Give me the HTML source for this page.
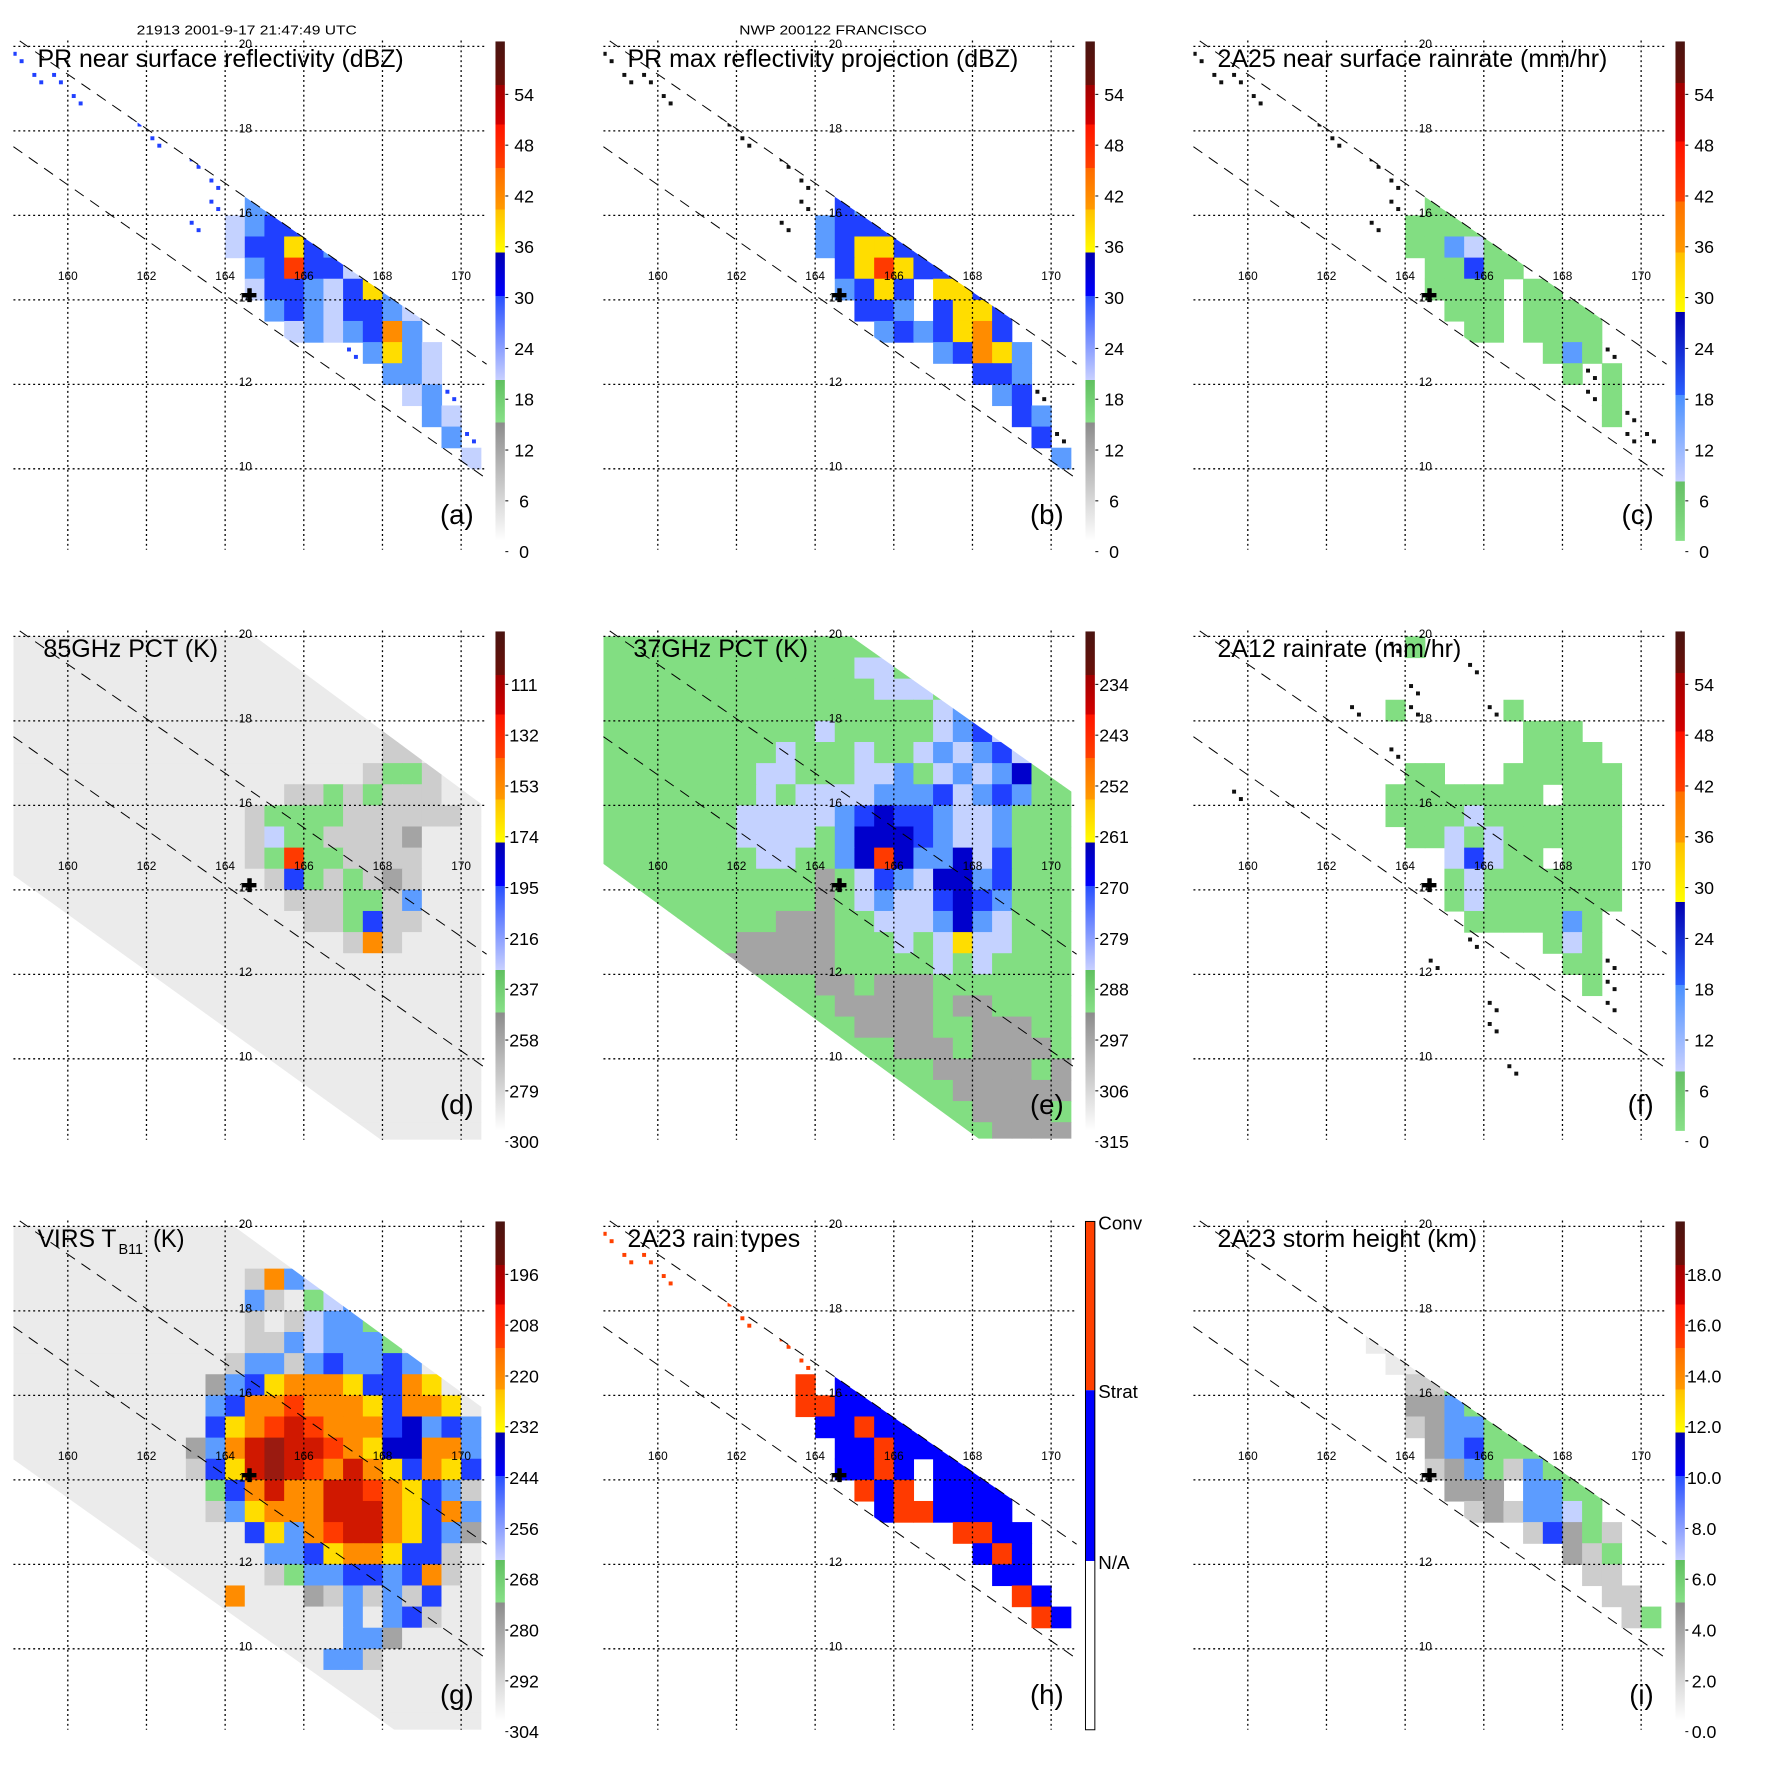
<!DOCTYPE html>
<html><head><meta charset="utf-8">
<style>
html,body{margin:0;padding:0;background:#fff}
svg{display:block}
text{font-family:"Liberation Sans",Arial,sans-serif;fill:#000}
</style></head>
<body>
<svg id="fig" width="1771" height="1771" viewBox="0 0 1771 1771" xmlns="http://www.w3.org/2000/svg">
<rect width="1771" height="1771" fill="#fff"/>
<defs id="defs">
<linearGradient id="gradA" x1="0" y1="0" x2="0" y2="1">
<stop offset="0" stop-color="#4a1410"/><stop offset="0.087" stop-color="#6a100a"/>
<stop offset="0.087" stop-color="#a00000"/><stop offset="0.166" stop-color="#d40000"/>
<stop offset="0.166" stop-color="#ff1400"/><stop offset="0.253" stop-color="#ff4000"/>
<stop offset="0.253" stop-color="#ff6a00"/><stop offset="0.336" stop-color="#ff9a00"/>
<stop offset="0.336" stop-color="#ffc000"/><stop offset="0.423" stop-color="#ffff00"/>
<stop offset="0.423" stop-color="#0000b0"/><stop offset="0.51" stop-color="#0000ff"/>
<stop offset="0.51" stop-color="#2850ff"/><stop offset="0.678" stop-color="#c8d0ff"/>
<stop offset="0.678" stop-color="#60c060"/><stop offset="0.763" stop-color="#88e088"/>
<stop offset="0.763" stop-color="#8c8c8c"/><stop offset="1" stop-color="#ffffff"/>
</linearGradient>
<linearGradient id="gradC" x1="0" y1="0" x2="0" y2="1">
<stop offset="0" stop-color="#4a1410"/><stop offset="0.083" stop-color="#6a100a"/>
<stop offset="0.083" stop-color="#a00000"/><stop offset="0.2" stop-color="#d40000"/>
<stop offset="0.2" stop-color="#ff1000"/><stop offset="0.32" stop-color="#ff4000"/>
<stop offset="0.32" stop-color="#ff7000"/><stop offset="0.423" stop-color="#ff9a00"/>
<stop offset="0.423" stop-color="#ffc000"/><stop offset="0.542" stop-color="#ffff00"/>
<stop offset="0.542" stop-color="#0000b0"/><stop offset="0.708" stop-color="#2a60ff"/>
<stop offset="0.708" stop-color="#4a90ff"/><stop offset="0.881" stop-color="#c8d0ff"/>
<stop offset="0.881" stop-color="#66c066"/><stop offset="1" stop-color="#88e088"/>
</linearGradient>
</defs>
<g transform="scale(0.987)">
<text x="250" y="35" font-size="13" text-anchor="middle" textLength="223" lengthAdjust="spacingAndGlyphs">21913 2001-9-17 21:47:49 UTC</text>
<text x="844" y="35" font-size="13" text-anchor="middle" textLength="190" lengthAdjust="spacingAndGlyphs">NWP 200122 FRANCISCO</text>
</g>
<g id="panels"></g>
</svg>
<script>
const NS='http://www.w3.org/2000/svg';
const lonTicks=[160,162,164,166,168,170];
const latTicks=[20,18,16,14,12,10];
const stormCenter=[164.62,14.11];

const gridA=[
"*.......................",".**.....................","...*..*.................","......**................",
".......*.*..............",".........**.............","..........*.l...........","..........*.bb..........",
".........*.lbBB.........","...........lBByBb.......","............bBrBBl......","............lBBblByb....",
".............bBblBBbl...","..............lblbBob...",".................*bybl..","...................bbl..",
"....................lb*.",".....................bl.","......................b*",".......................l",
"........................","........................","........................","........................"];
const gridB=[
"#.......................",".##.....................","...#..#.................","......##................",
".......#.#..............",".........##.............","..........#.#...........","..........#.Bb..........",
".........#.bBBB.........","...........bByyBB.......","............ByryBB......","............bByB.yyB....",
".............BBb.ByyB...","..............bBbByoB...",".................bBoyb..","...................BBb..",
"....................bB#.",".....................Bb.","......................B#",".......................b",
"........................","........................","........................","........................"];
const gridC=[
"#.......................",".##.....................","...#..#.................","......##................",
".......#.#..............",".........##.............","..........#.#...........","..........#.nn..........",
".........#.nnnn.........","...........nnblnn.......","............nnBnn.......","............nnnn.nn.....",
".............nnn.nnnn...","..............nn.nnnn...","..................nbn#..","...................n#n..",
"....................#n..",".....................n#.","......................##","........................",
"........................","........................","........................","........................"];
const gridD=[
"wwwwwwwwwwwwwwwwwwwwwwww","wwwwwwwwwwwwwwwwwwwwwwww","wwwwwwwwwwwwwwwwwwwwwwww","wwwwwwwwwwwwwwwwwwwggwww",
"wwwwwwwwwwwwwwwwwwwggwww","wwwwwwwwwwwwwwwwwwwggwww","wwwwwwwwwwwwwwwwwwgnngww","wwwwwwwwwwwwwwggngngggww",
"wwwwwwwwwwwwgnnnnggggggw","wwwwwwwwwwwwglnnggggGwww","wwwwwwwwwwwwgnrnnggggwww","wwwwwwwwwwwwwgBngngGgwww",
"wwwwwwwwwwwwwwgggnngbwww","wwwwwwwwwwwwwwwggnBggwww","wwwwwwwwwwwwwwwwwgogwwww","wwwwwwwwwwwwwwwwwwwwwwww",
"wwwwwwwwwwwwwwwwwwwwwwww","wwwwwwwwwwwwwwwwwwwwwwww","wwwwwwwwwwwwwwwwwwwwwwww","wwwwwwwwwwwwwwwwwwwwwwww",
"wwwwwwwwwwwwwwwwwwwwwwww","wwwwwwwwwwwwwwwwwwwwwwww","wwwwwwwwwwwwwwwwwwwwwwww","wwwwwwwwwwwwwwwwwwwwwwww"];
const gridE=[
"nnnnnnnnnnnnnnnnnnnnnnnn","nnnnnnnnnnnnnllnnnnnnnnn","nnnnnnnnnnnnnnlllnnnnnnn","nnnnnnnnnnnnnnnnnlbbnnnn",
"nnnnnnnnnnnlnnnnnlbBlnnn","nnnnnnnnnlnnnlnnlblbBlnn","nnnnnnnnllnnnllbnlblbDnn","nnnnnnnnlnllllbbbBlbBbnn",
"nnnnnnnlllllbBDBBbllbnnn","nnnnnnnllllnbDDDBbllbnnn","nnnnnnnnllnnbDrDbbDlBnnn","nnnnnnnnnnnGnlBblDDbBnnn",
"nnnnnnnnnnnGnlbllBDBbnnn","nnnnnnnnnGGGnnlllbDblnnn","nnnnnnnGGGGGnnnlnlyllnnn","nnnnnnGGGGGGnnnnnlnlnnnn",
"nnnnnnnnnnnGGnGGGnnnnnnn","nnnnnnnnnnnnGGGGGnGGnnnn","nnnnnnnnnnnnnGGGGnnGGGnn","nnnnnnnnnnnnnnnGGGnGGGGn",
"nnnnnnnnnnnnnnnnnGGGGGnG","nnnnnnnnnnnnnnnnnnGGGGGG","nnnnnnnnnnnnnnnnnnnGGGGn","nnnnnnnnnnnnnnnnnnnnGGGG"];
const gridF=[
"..........#n............","..............#.........","...........#............","........#.n#...#n.......",
".................nnn....","..........#......nnnn...","...........nn...nnnnnn..","..#.......nnnnnnnn.nnn..",
"..........nnnnlnnnnnnn..","...........nnlnlnnnnnn..",".............lBlnn.nnn..",".............nlnnnnnnn..",
".............nlnnnnnnn..","..............nnnnnbn...","..............#...nln...","............#......nn#..",
"....................n#..","...............#.....#..","...............#........","........................",
"................#.......","........................","........................","........................"];
const gridG=[
"wwwwwwwwwwwwwwwwwwwwwwww","wwwwwwwwwwwwwwwwwwwwwwww","wwwwwwwwwwwwgoblwwwwwwww","wwwwwwwwwwwwbgwnlbwwwwww",
"wwwwwwwwwwwwgwglbbnwwwww","wwwwwwwwwwwwggblbbbnwwww","wwwwwwwwwwwgbbgbBbbBbwww","wwwwwwwwwwGbByoooyBBoyww",
"wwwwwwwwwwbBooroooyBooyw","wwwwwwwwwwByorRroooBDbBb","wwwwwwwwwGboRkRRroyDDoob","wwwwwwwwwgByRkRroRoyBoyB",
"wwwwwwwwwwnBoRooRRroyBbg","wwwwwwwwwwgbyoooRRRoyBob","wwwwwwwwwwwwByborRRoyBbG","wwwwwwwwwwwwwbbByooyBBgw",
"wwwwwwwwwwwwwgnbbBBbBogw","wwwwwwwwwwwowwwGgbgbgBww","wwwwwwwwwwwwwwwwwbwbBgww","wwwwwwwwwwwwwwwwwbbGwwww",
"wwwwwwwwwwwwwwwwbbgwwwww","wwwwwwwwwwwwwwwwwwwwwwww","wwwwwwwwwwwwwwwwwwwwwwww","wwwwwwwwwwwwwwwwwwwwwwww"];
const gridH=[
"%.......................",".%%.....................","...%..%.................","......%%................",
".......%.%..............",".........%%.............","..........%.%...........","..........r.UU..........",
"..........rrUUU.........","...........UUrUUU.......","............UUrUUU......","............UUrU.UUU....",
".............rUr.UUUU...","..............UrrUUUU...","..................rrUU..","...................UrU..",
"....................UU..",".....................rU.","......................rU","........................",
"........................","........................","........................","........................"];
const gridI=[
"........................","........................","........................","........................",
"........................",".........w..............","..........ww............","...........ggn..........",
"...........GGbn.........","...........gGbbnn.......","............GbBnnn......","............gGbngbnn....",
".............GGG.bbnn...","..............gGgbbln...",".................gBGng..","...................Ggn..",
"....................gg..",".....................gg.","......................gn","........................",
"........................","........................","........................","........................"];

const ticksDBZ=['54','48','42','36','30','24','18','12','6','0'];
const ticksPCT85=['111','132','153','174','195','216','237','258','279','300'];
const ticksPCT37=['234','243','252','261','270','279','288','297','306','315'];
const ticksVIRS=['196','208','220','232','244','256','268','280','292','304'];
const ticksHeight=['18.0','16.0','14.0','12.0','10.0','8.0','6.0','4.0','2.0','0.0'];
const rainTypes=['Conv','Strat','N/A'];

const palette={w:'#ebebeb',g:'#cdcdcd',G:'#a4a4a4',n:'#82de82',l:'#c4d2ff',b:'#5c9cff',B:'#2040ff',D:'#0000cc',U:'#0000ff',y:'#ffdd00',o:'#ff8c00',r:'#ff3a00',R:'#d01800',k:'#9a1a10'};
const dotColors={'*':'#2040ff','#':'#111111','%':'#ff4000'};

function xOf(lon){return 68.7+(lon-160)*39.85;}
function yOf(lat){return 47+(20-lat)*42.8;}
function mk(tag,attrs,parent){const e=document.createElementNS(NS,tag);for(const k in attrs)e.setAttribute(k,attrs[k]);if(parent)parent.appendChild(e);return e;}

const clipShapes={
 pr:'0,27.7 493,368.8 493,486 0,139',
 d:'13.6,41 250,41 492,220 492,557 386,557 13.6,289',
 e:'13.6,41 256,41 493,208 493,556 394,556 13.6,277.5',
 g:'13.6,41 229,41 492,233 492,557 399.5,557 13.6,283'
};
const panels=[
 {id:'a',col:0,row:0,grid:gridA,clip:'pr',title:'PR near surface reflectivity (dBZ)',tw:371,tx:38,cb:'A',ticks:ticksDBZ},
 {id:'b',col:1,row:0,grid:gridB,clip:'pr',title:'PR max reflectivity projection (dBZ)',tw:396,tx:38,cb:'A',ticks:ticksDBZ},
 {id:'c',col:2,row:0,grid:gridC,clip:'pr',title:'2A25 near surface rainrate (mm/hr)',tw:395,tx:38,cb:'C',ticks:ticksDBZ},
 {id:'d',col:0,row:1,grid:gridD,clip:'d',title:'85GHz PCT (K)',tw:177,tx:44,cb:'A',ticks:ticksPCT85},
 {id:'e',col:1,row:1,grid:gridE,clip:'e',title:'37GHz PCT (K)',tw:177,tx:44,cb:'A',ticks:ticksPCT37},
 {id:'f',col:2,row:1,grid:gridF,clip:null,title:'2A12 rainrate (mm/hr)',tw:247,tx:38,cb:'C',ticks:ticksDBZ},
 {id:'g',col:0,row:2,grid:gridG,clip:'g',title:null,cb:'A',ticks:ticksVIRS},
 {id:'h',col:1,row:2,grid:gridH,clip:'pr',title:'2A23 rain types',tw:175,tx:38,cb:'H',ticks:rainTypes},
 {id:'i',col:2,row:2,grid:gridI,clip:'pr',title:'2A23 storm height (km)',tw:263,tx:38,cb:'A',ticks:ticksHeight}
];

const root=document.getElementById('panels');
const defs=document.getElementById('defs');
panels.forEach(p=>{
 const g=mk('g',{transform:`translate(${p.col*590},${p.row*590}) scale(0.987)`},root);
 
 
 const cpBox=mk('clipPath',{id:'box'+p.id},defs);
 mk('rect',{x:13.6,y:41,width:479.4,height:516},cpBox);
 const field=mk('g',{'clip-path':`url(#box${p.id})`},g);
 
 
 let inner=field;
 if(p.clip){
  const cp=mk('clipPath',{id:'sw'+p.id},defs);
  mk('polygon',{points:clipShapes[p.clip]},cp);
  inner=mk('g',{'clip-path':`url(#sw${p.id})`},field);
 }
 const cw=xOf(0.5+160)-xOf(160), ch=yOf(19.5)-yOf(20);
 p.grid.forEach((rowStr,i)=>{
  for(let j=0;j<rowStr.length;j++){
   const c=rowStr[j]; if(c==='.') continue;
   const lon0=158.5+0.5*j, lat0=20-0.5*i;
   const x=xOf(lon0), y=yOf(lat0);
   if(palette[c]){
    const r=mk('rect',{x:x.toFixed(1),y:y.toFixed(1),width:(cw+0.6).toFixed(1),height:(ch+0.6).toFixed(1),fill:palette[c]},inner);
    
    
   } else if(dotColors[c]){
    [[0.3,0.35],[0.65,0.7]].forEach(([fx,fy])=>{
     const r=mk('rect',{x:(x+cw*fx-2).toFixed(1),y:(y+ch*fy-2).toFixed(1),width:4,height:4,fill:dotColors[c]},inner);
     
     
    });
   }
  }
 });
 latTicks.forEach(lat=>{
  const l=mk('line',{x1:13.6,x2:493,y1:yOf(lat),y2:yOf(lat),stroke:'#000','stroke-width':1.3,'stroke-dasharray':'2 3'},g);
  
  
  const t=mk('text',{x:248.6,y:yOf(lat)+1.5,'font-size':12,'text-anchor':'middle'},g);
  t.textContent=String(lat);
  
  
 });
 lonTicks.forEach(lon=>{
  const l=mk('line',{x1:xOf(lon),x2:xOf(lon),y1:41,y2:557,stroke:'#000','stroke-width':1.3,'stroke-dasharray':'2 3'},g);
  
  
  const t=mk('text',{x:xOf(lon),y:283.5,'font-size':12,'text-anchor':'middle'},g);
  t.textContent=String(lon);
  
  
 });
 [[20,41.5,493,369],[13.6,148.6,493,485]].forEach(s=>{
  const l=mk('line',{x1:s[0],y1:s[1],x2:s[2],y2:s[3],stroke:'#000','stroke-width':1,'stroke-dasharray':'11 8'},g);
  
  
 });
 const cx=xOf(stormCenter[0]), cy=yOf(stormCenter[1]);
 const cr=mk('path',{d:`M${cx-7},${cy} H${cx+7} M${cx},${cy-7} V${cy+7}`,stroke:'#000','stroke-width':4.5},g);
 
 
 if(p.title){
  const t=mk('text',{x:p.tx,y:68,'font-size':25,textLength:p.tw,lengthAdjust:'spacingAndGlyphs'},g);
  t.textContent=p.title;
  
  
 } else {
  const t1=mk('text',{x:38,y:68,'font-size':25,textLength:80,lengthAdjust:'spacingAndGlyphs'},g);
  t1.textContent='VIRS T';
  
  
  const t2=mk('text',{x:120,y:75,'font-size':15,textLength:25,lengthAdjust:'spacingAndGlyphs'},g);
  t2.textContent='B11';
  
  
  const t3=mk('text',{x:155,y:68,'font-size':25,textLength:32,lengthAdjust:'spacingAndGlyphs'},g);
  t3.textContent='(K)';
  
  
 }
 const lt=mk('text',{x:480,y:531,'font-size':28,'text-anchor':'end'},g);
 lt.textContent='('+p.id+')';
 
 
 if(p.cb==='H'){
  const segs=[[42,213,'#ff4000'],[213,386,'#0000ff'],[386,557,'#ffffff']];
  segs.forEach(s=>{
   const r=mk('rect',{x:502,y:s[0],width:9.5,height:s[1]-s[0],fill:s[2]},g);
   
   
  });
  const ob=mk('rect',{x:502,y:42,width:9.5,height:515,fill:'none',stroke:'#000','stroke-width':1},g);
  
  
  [44,215,388].forEach((yy,k)=>{
   const t=mk('text',{x:515,y:yy+6,'font-size':19},g);
   t.textContent=p.ticks[k];
   
   
  });
 } else {
  const r=mk('rect',{x:502,y:42,width:9.5,height:506,fill:p.cb==='A'?'url(#gradA)':'url(#gradC)'},g);
  
  
  p.ticks.forEach((lab,k)=>{
   const yy=95.6+51.48*k;
   const tk=mk('line',{x1:512,x2:515,y1:yy,y2:yy,stroke:'#000','stroke-width':1},g);
   
   
   const t=mk('text',{x:531,y:yy+6.5,'font-size':18,'text-anchor':'middle'},g);
   t.textContent=lab;
   
   
  });
 }
});
</script>
</body></html>
